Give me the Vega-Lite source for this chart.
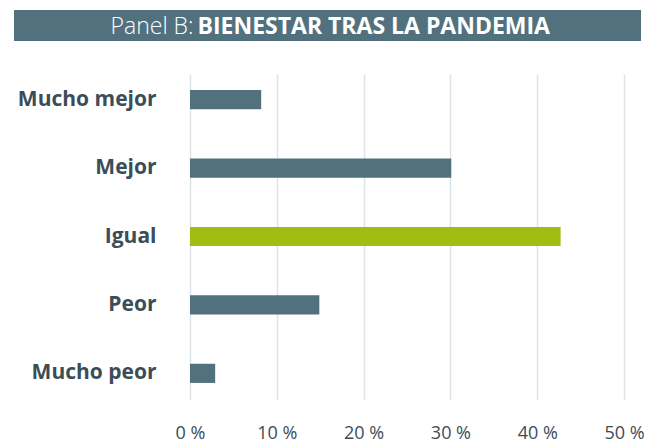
{
  "$schema": "https://vega.github.io/schema/vega-lite/v6.json",
  "padding": {"left": 14, "top": 10, "right": 5, "bottom": 5},
  "background": "white",
  "config": {"font": "Open Sans"},
  "spacing": 33,
  "vconcat": [
    {
      "width": 451,
      "height": 31,
      "view": {"stroke": null},
      "data": {"values": [{"panel": "Panel B:", "titulo": "BIENESTAR TRAS LA PANDEMIA"}]},
      "layer": [
        {
          "mark": {"type": "rect", "color": "#52717e"},
          "encoding": {
            "x": {"datum": 0, "type": "quantitative", "scale": {"domain": [0, 1], "range": [-176, 451]}, "axis": null},
            "x2": {"datum": 1}
          }
        },
        {
          "mark": {"type": "text", "align": "right", "baseline": "middle", "dx": -222, "dy": 1, "fontSize": 23, "fontWeight": 300, "color": "#ffffff"},
          "encoding": {"text": {"field": "panel"}}
        },
        {
          "mark": {"type": "text", "align": "left", "baseline": "middle", "dx": -218, "dy": 1, "fontSize": 23, "fontWeight": "bold", "color": "#ffffff"},
          "encoding": {"text": {"field": "titulo"}}
        }
      ]
    },
    {
      "width": 434,
      "height": 325,
      "view": {"stroke": null},
      "data": {"values": [
        {"respuesta": "Mucho mejor", "pct": 8.2, "grupo": "otro"},
        {"respuesta": "Mejor", "pct": 30.1, "grupo": "otro"},
        {"respuesta": "Igual", "pct": 42.7, "grupo": "igual"},
        {"respuesta": "Peor", "pct": 14.9, "grupo": "otro"},
        {"respuesta": "Mucho peor", "pct": 2.9, "grupo": "otro"}
      ]},
      "mark": {"type": "bar", "cornerRadius": 0},
      "encoding": {
        "y": {
          "field": "respuesta", "type": "nominal", "sort": null,
          "scale": {"paddingInner": 0.72, "paddingOuter": 0.235},
          "axis": {"title": null, "domain": false, "ticks": false, "labelPadding": 34, "minExtent": 176, "labelFontSize": 21, "labelFontWeight": "bold", "labelColor": "#3b4d57", "labelFont": "Open Sans"}
        },
        "x": {
          "field": "pct", "type": "quantitative",
          "scale": {"domain": [0, 50], "nice": false},
          "axis": {"title": null, "values": [0, 10, 20, 30, 40, 50], "labelExpr": "datum.value + ' %'", "labelFlush": false, "domain": false, "ticks": false, "labelPadding": 25, "labelFontSize": 18, "labelColor": "#3b4d57", "labelFont": "Open Sans", "gridColor": "#dde3e7", "gridWidth": 1.5}
        },
        "color": {
          "field": "grupo", "type": "nominal",
          "scale": {"domain": ["otro", "igual"], "range": ["#52717e", "#a2bd12"]},
          "legend": null
        }
      }
    }
  ]
}
